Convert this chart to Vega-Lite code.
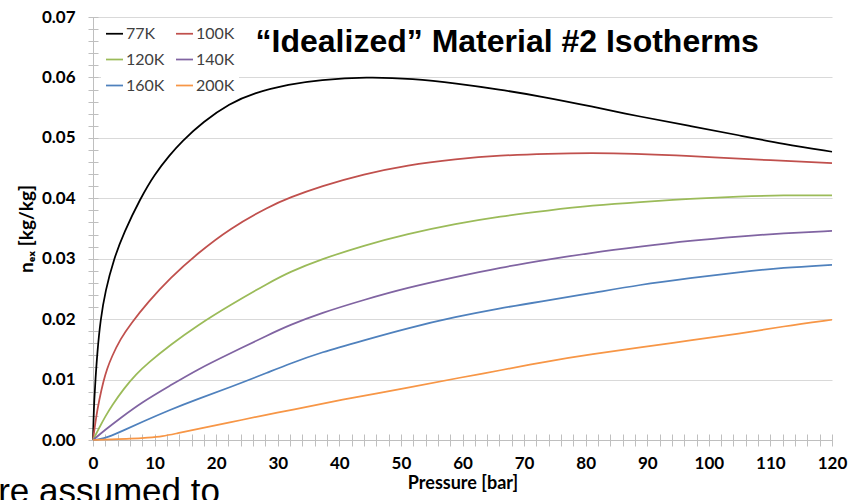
{
  "$schema": "https://vega.github.io/schema/vega-lite/v6.json",
  "width": 739,
  "height": 423,
  "autosize": {"type": "none"},
  "padding": {"left": 93, "top": 17, "right": 16, "bottom": 60},
  "background": "white",
  "config": {"view": {"stroke": null}, "font": "Lato"},
  "datasets": {
    "iso": [
      {"T":"77K","P":0,"n":0},{"T":"77K","P":0.1,"n":0.0038},{"T":"77K","P":0.2,"n":0.0066},{"T":"77K","P":0.4,"n":0.0100},{"T":"77K","P":0.7,"n":0.0145},{"T":"77K","P":1.2,"n":0.0198},{"T":"77K","P":2,"n":0.0247},{"T":"77K","P":3.4,"n":0.0300},{"T":"77K","P":5,"n":0.0343},{"T":"77K","P":7.7,"n":0.0400},{"T":"77K","P":10,"n":0.0440},{"T":"77K","P":12.5,"n":0.0472},{"T":"77K","P":14.3,"n":0.0493},{"T":"77K","P":17.9,"n":0.0527},{"T":"77K","P":22.2,"n":0.0557},{"T":"77K","P":26,"n":0.0574},{"T":"77K","P":31.9,"n":0.0589},{"T":"77K","P":36.8,"n":0.0596},{"T":"77K","P":44.4,"n":0.0601},{"T":"77K","P":52,"n":0.0598},{"T":"77K","P":59,"n":0.0590},{"T":"77K","P":66,"n":0.0580},{"T":"77K","P":72.6,"n":0.0569},{"T":"77K","P":81,"n":0.0552},{"T":"77K","P":88.8,"n":0.0535},{"T":"77K","P":96.9,"n":0.0520},{"T":"77K","P":105,"n":0.0504},{"T":"77K","P":112,"n":0.0490},{"T":"77K","P":120,"n":0.0477},
      {"T":"100K","P":0,"n":0},{"T":"100K","P":0.5,"n":0.0038},{"T":"100K","P":1,"n":0.0066},{"T":"100K","P":1.7,"n":0.0098},{"T":"100K","P":2.3,"n":0.0118},{"T":"100K","P":3,"n":0.0137},{"T":"100K","P":4.5,"n":0.0168},{"T":"100K","P":6.1,"n":0.0192},{"T":"100K","P":9,"n":0.0229},{"T":"100K","P":12.5,"n":0.0268},{"T":"100K","P":17,"n":0.0309},{"T":"100K","P":22.2,"n":0.0350},{"T":"100K","P":28.7,"n":0.0387},{"T":"100K","P":31.9,"n":0.0401},{"T":"100K","P":37,"n":0.0420},{"T":"100K","P":44,"n":0.0440},{"T":"100K","P":51,"n":0.0455},{"T":"100K","P":59,"n":0.0465},{"T":"100K","P":66,"n":0.0471},{"T":"100K","P":74,"n":0.0474},{"T":"100K","P":81,"n":0.0475},{"T":"100K","P":88,"n":0.0474},{"T":"100K","P":95,"n":0.0471},{"T":"100K","P":100,"n":0.0468},{"T":"100K","P":110,"n":0.0463},{"T":"100K","P":120,"n":0.0458},
      {"T":"120K","P":0,"n":0},{"T":"120K","P":1,"n":0.0020},{"T":"120K","P":2,"n":0.0039},{"T":"120K","P":3,"n":0.0056},{"T":"120K","P":5,"n":0.0085},{"T":"120K","P":7,"n":0.0109},{"T":"120K","P":9,"n":0.0128},{"T":"120K","P":12.5,"n":0.0157},{"T":"120K","P":17,"n":0.0190},{"T":"120K","P":22.2,"n":0.0223},{"T":"120K","P":28.7,"n":0.0261},{"T":"120K","P":31.9,"n":0.0278},{"T":"120K","P":37,"n":0.0299},{"T":"120K","P":44,"n":0.0322},{"T":"120K","P":51,"n":0.0341},{"T":"120K","P":59,"n":0.0358},{"T":"120K","P":66,"n":0.0370},{"T":"120K","P":74,"n":0.0380},{"T":"120K","P":81,"n":0.0388},{"T":"120K","P":88.8,"n":0.0394},{"T":"120K","P":97,"n":0.0399},{"T":"120K","P":105,"n":0.0403},{"T":"120K","P":112,"n":0.0405},{"T":"120K","P":120,"n":0.0405},
      {"T":"140K","P":0,"n":0},{"T":"140K","P":2,"n":0.0017},{"T":"140K","P":4.4,"n":0.0036},{"T":"140K","P":8,"n":0.0063},{"T":"140K","P":12.5,"n":0.0090},{"T":"140K","P":17,"n":0.0117},{"T":"140K","P":22.2,"n":0.0143},{"T":"140K","P":28.7,"n":0.0175},{"T":"140K","P":31.9,"n":0.0190},{"T":"140K","P":37,"n":0.0210},{"T":"140K","P":44,"n":0.0232},{"T":"140K","P":51,"n":0.0252},{"T":"140K","P":59,"n":0.0270},{"T":"140K","P":66,"n":0.0285},{"T":"140K","P":74,"n":0.0299},{"T":"140K","P":81,"n":0.0310},{"T":"140K","P":88.8,"n":0.0320},{"T":"140K","P":97,"n":0.0330},{"T":"140K","P":105,"n":0.0337},{"T":"140K","P":112,"n":0.0342},{"T":"140K","P":120,"n":0.0346},
      {"T":"160K","P":0,"n":0},{"T":"160K","P":1,"n":0.0001},{"T":"160K","P":2.3,"n":0.0004},{"T":"160K","P":5,"n":0.0016},{"T":"160K","P":8,"n":0.0030},{"T":"160K","P":12.5,"n":0.0050},{"T":"160K","P":17,"n":0.0068},{"T":"160K","P":22.2,"n":0.0087},{"T":"160K","P":28.7,"n":0.0113},{"T":"160K","P":31.9,"n":0.0126},{"T":"160K","P":37,"n":0.0145},{"T":"160K","P":44,"n":0.0165},{"T":"160K","P":51,"n":0.0185},{"T":"160K","P":59,"n":0.0204},{"T":"160K","P":66,"n":0.0218},{"T":"160K","P":72.6,"n":0.0229},{"T":"160K","P":81,"n":0.0243},{"T":"160K","P":88.8,"n":0.0257},{"T":"160K","P":97,"n":0.0268},{"T":"160K","P":105,"n":0.0278},{"T":"160K","P":112,"n":0.0285},{"T":"160K","P":120,"n":0.0290},
      {"T":"200K","P":0,"n":0},{"T":"200K","P":3,"n":0.0001},{"T":"200K","P":6,"n":0.0002},{"T":"200K","P":9,"n":0.0004},{"T":"200K","P":11.3,"n":0.0006},{"T":"200K","P":13.6,"n":0.0011},{"T":"200K","P":17,"n":0.0018},{"T":"200K","P":22.2,"n":0.0029},{"T":"200K","P":28.7,"n":0.0043},{"T":"200K","P":31.9,"n":0.0049},{"T":"200K","P":40,"n":0.0066},{"T":"200K","P":51.4,"n":0.0087},{"T":"200K","P":60,"n":0.0104},{"T":"200K","P":66,"n":0.0115},{"T":"200K","P":74.2,"n":0.0131},{"T":"200K","P":81,"n":0.0142},{"T":"200K","P":88.8,"n":0.0153},{"T":"200K","P":97,"n":0.0165},{"T":"200K","P":105,"n":0.0176},{"T":"200K","P":112,"n":0.0188},{"T":"200K","P":120,"n":0.0199}
    ],
    "note": [{"P": -15.4, "n": -0.0104, "label": "re assumed to"}],
    "heading": [{"P": 26.4, "n": 0.0642, "label": "“Idealized” Material #2 Isotherms"}]
  },
  "layer": [
    {
      "data": {"name": "iso"},
      "mark": {"type": "line", "strokeWidth": 1.75, "interpolate": "basis"},
      "encoding": {
        "x": {
          "field": "P", "type": "quantitative",
          "scale": {"domain": [0, 120], "nice": false},
          "axis": {
            "values": [0,10,20,30,40,50,60,70,80,90,100,110,120],
            "grid": false, "ticks": false,
            "domainColor": "#bfbfbf", "domainWidth": 1,
            "labelFont": "Lato", "labelFontWeight": "bold", "labelFontSize": 17, "labelColor": "#000000",
            "labelPadding": 15, "labelFlush": false,
            "title": "Pressure [bar]", "titleFont": "Lato", "titleFontSize": 18, "titleFontWeight": "bold", "titleColor": "#000000", "titlePadding": 3
          }
        },
        "y": {
          "field": "n", "type": "quantitative",
          "scale": {"domain": [0, 0.07], "nice": false},
          "axis": {
            "values": [0,0.01,0.02,0.03,0.04,0.05,0.06,0.07],
            "format": ".2f",
            "grid": true, "gridColor": "#d9d9d9", "gridWidth": 1,
            "ticks": false,
            "domainColor": "#bfbfbf", "domainWidth": 1,
            "labelFont": "Lato", "labelFontWeight": "bold", "labelFontSize": 17, "labelColor": "#000000",
            "labelPadding": 18, "labelFlush": false,
            "title": "nₑₓ [kg/kg]", "titleFont": "Lato", "titleFontSize": 19, "titleFontWeight": "bold", "titleColor": "#000000", "titlePadding": 5
          }
        },
        "color": {
          "field": "T", "type": "nominal",
          "scale": {
            "domain": ["77K","100K","120K","140K","160K","200K"],
            "range": ["#000000","#c0504d","#9bbb59","#8064a2","#4f81bd","#f79646"]
          },
          "legend": {
            "orient": "none", "legendX": 8, "legendY": 3,
            "direction": "horizontal",
            "columns": 2, "title": null,
            "symbolType": "stroke", "symbolSize": 289, "symbolStrokeWidth": 1.75,
            "labelFont": "Lato", "labelFontSize": 16, "labelColor": "#404040", "labelOffset": 2,
            "columnPadding": 7, "rowPadding": 8,
            "fillColor": "white", "padding": 4
          }
        }
      }
    },
    {
      "data": {"name": "iso"},
      "mark": {"type": "line", "strokeOpacity": 0, "interpolate": "basis"},
      "encoding": {
        "x": {
          "field": "P", "type": "quantitative",
          "axis": {
            "orient": "bottom",
            "values": [0,2,4,6,8,10,12,14,16,18,20,22,24,26,28,30,32,34,36,38,40,42,44,46,48,50,52,54,56,58,60,62,64,66,68,70,72,74,76,78,80,82,84,86,88,90,92,94,96,98,100,102,104,106,108,110,112,114,116,118,120],
            "labels": false, "grid": false, "domain": false,
            "ticks": true, "tickSize": 12, "offset": -6, "tickColor": "#bfbfbf", "title": null
          }
        },
        "y": {
          "field": "n", "type": "quantitative",
          "axis": {
            "orient": "left",
            "values": [0,0.002,0.004,0.006,0.008,0.01,0.012,0.014,0.016,0.018,0.02,0.022,0.024,0.026,0.028,0.03,0.032,0.034,0.036,0.038,0.04,0.042,0.044,0.046,0.048,0.05,0.052,0.054,0.056,0.058,0.06,0.062,0.064,0.066,0.068,0.07],
            "labels": false, "grid": false, "domain": false,
            "ticks": true, "tickSize": 10, "offset": -5, "tickColor": "#bfbfbf", "title": null
          }
        },
        "detail": {"field": "T", "type": "nominal"}
      }
    },
    {
      "data": {"name": "heading"},
      "mark": {"type": "text", "align": "left", "baseline": "alphabetic", "font": "Liberation Sans", "fontSize": 32, "fontWeight": "bold", "color": "#000000"},
      "encoding": {
        "x": {"field": "P", "type": "quantitative", "axis": null},
        "y": {"field": "n", "type": "quantitative", "axis": null},
        "text": {"field": "label"}
      }
    },
    {
      "data": {"name": "note"},
      "mark": {"type": "text", "align": "left", "baseline": "alphabetic", "font": "Liberation Sans", "fontSize": 35, "color": "#000000"},
      "encoding": {
        "x": {"field": "P", "type": "quantitative", "axis": null},
        "y": {"field": "n", "type": "quantitative", "axis": null},
        "text": {"field": "label"}
      }
    }
  ],
  "resolve": {"axis": {"x": "independent", "y": "independent"}}
}
